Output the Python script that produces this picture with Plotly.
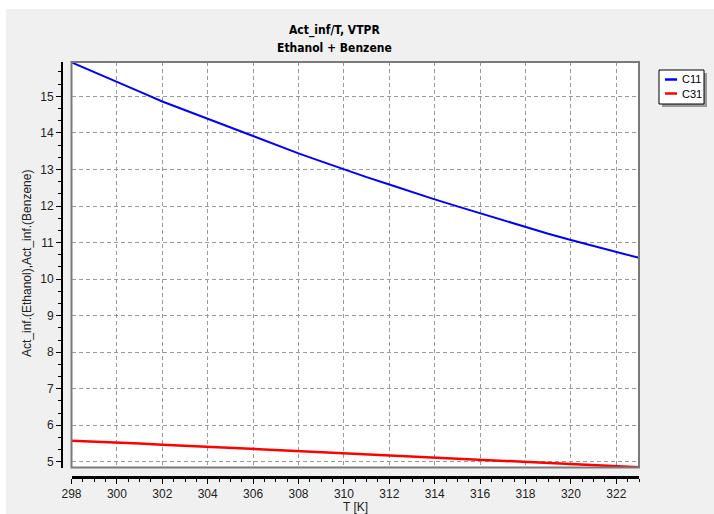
import plotly.graph_objects as go

# Infinite-dilution activity coefficients vs temperature (VTPR model)
temperature_K = [298, 299, 300, 301, 302, 303, 304, 305, 306, 307, 308, 309, 310,
                 311, 312, 313, 314, 315, 316, 317, 318, 319, 320, 321, 322, 323]
c11_values = [15.93, 15.67, 15.41, 15.13, 14.86, 14.62, 14.39, 14.15, 13.91, 13.67,
              13.44, 13.22, 13.00, 12.79, 12.59, 12.38, 12.18, 11.99, 11.80, 11.60,
              11.41, 11.24, 11.07, 10.91, 10.75, 10.58]
c31_values = [5.58, 5.56, 5.53, 5.50, 5.47, 5.44, 5.41, 5.38, 5.35, 5.32,
              5.29, 5.26, 5.23, 5.20, 5.17, 5.14, 5.11, 5.08, 5.05, 5.02,
              4.99, 4.96, 4.94, 4.91, 4.88, 4.85]
series_names = ["C11", "C31"]
series_colors = ["#0000ff", "#ff0000"]
x_ticks = list(range(298, 323, 2))
y_ticks = list(range(5, 16))

W, H = 714, 514
ML, MR, MT, MB = 62, 75, 62, 37
PW, PH = W - ML - MR, H - MT - MB


def px(x):
    return (x - ML) / PW


def py(y):
    return (H - MB - y) / PH


XDOM0 = px(71.5)
YDOM0 = py(467.5)

TICK_FONT = dict(family="Liberation Sans, Arial, sans-serif", size=12, color="#222222")
TITLE_FONT = "Liberation Sans Narrow, DejaVu Sans Condensed, Arial Narrow, sans-serif"

fig = go.Figure()
for name, vals, col, w in zip(series_names, [c11_values, c31_values], series_colors, [2, 2.5]):
    fig.add_trace(go.Scatter(x=temperature_K, y=vals, mode="lines", name=name,
                             line=dict(color=col, width=w), showlegend=False))

fig.update_layout(
    width=W, height=H,
    margin=dict(l=ML, r=MR, t=MT, b=MB),
    paper_bgcolor="#f0f0f0",
    plot_bgcolor="#ffffff",
    showlegend=False,
    xaxis=dict(
        domain=[XDOM0, 1], range=[298, 323], anchor="free", position=0,
        tickmode="array", tickvals=x_ticks, ticktext=[str(v) for v in x_ticks],
        showline=True, linecolor="#000000", linewidth=3,
        ticks="outside", ticklen=5, tickwidth=1, tickcolor="#000000",
        tickfont=TICK_FONT,
        showgrid=True, gridcolor="#9a9a9a", gridwidth=1, griddash="4px,3px",
        zeroline=False,
        minor=dict(dtick=0.5, ticks="outside", ticklen=3, tickcolor="#000000", showgrid=False),
    ),
    yaxis=dict(
        domain=[YDOM0, 1], range=[4.845, 15.94], anchor="free", position=0,
        tickmode="array", tickvals=y_ticks, ticktext=[str(v) for v in y_ticks],
        showline=True, linecolor="#000000", linewidth=2,
        ticks="outside", ticklen=5, tickwidth=1, tickcolor="#000000",
        tickfont=TICK_FONT,
        showgrid=True, gridcolor="#9a9a9a", gridwidth=1, griddash="4px,3px",
        zeroline=False,
        minor=dict(dtick=1 / 3, ticks="outside", ticklen=3, tickcolor="#000000", showgrid=False),
    ),
)

shapes = []
# white strips along the top and left edges of the window
shapes.append(dict(type="rect", xref="paper", yref="paper", x0=px(-5), x1=px(W + 5),
                   y0=py(9), y1=py(-5), fillcolor="#ffffff", line=dict(width=0), layer="below"))
shapes.append(dict(type="rect", xref="paper", yref="paper", x0=px(-5), x1=px(6),
                   y0=py(H + 5), y1=py(-5), fillcolor="#ffffff", line=dict(width=0), layer="below"))
# plot frame
shapes.append(dict(type="rect", xref="paper", yref="paper", x0=XDOM0, x1=1, y0=YDOM0, y1=1,
                   line=dict(color="#7a7a7a", width=2), fillcolor="rgba(0,0,0,0)", layer="above"))
# legend box with drop shadow
lx0, lx1, ly0, ly1 = 659, 704, 70, 104
shapes.append(dict(type="rect", xref="paper", yref="paper", x0=px(lx0 + 3), x1=px(lx1 + 3),
                   y0=py(ly1 + 3), y1=py(ly0 + 3), fillcolor="#9a9a9a", line=dict(width=0)))
shapes.append(dict(type="rect", xref="paper", yref="paper", x0=px(lx0), x1=px(lx1),
                   y0=py(ly1), y1=py(ly0), fillcolor="#ffffff", line=dict(color="#000000", width=1)))
annotations = []
for i, (name, col) in enumerate(zip(series_names, series_colors)):
    yy = 79.5 + i * 14
    shapes.append(dict(type="line", xref="paper", yref="paper", x0=px(665), x1=px(677),
                       y0=py(yy), y1=py(yy), line=dict(color=col, width=2.5)))
    annotations.append(dict(text=name, xref="paper", yref="paper", x=px(680), y=py(yy),
                            xanchor="left", yanchor="middle", showarrow=False,
                            font=dict(family="Liberation Sans, Arial, sans-serif", size=11,
                                      color="#000000")))

# titles
annotations.append(dict(text="<b>Act_inf/T, VTPR</b>", xref="paper", yref="paper",
                        x=px(334), y=py(30), xanchor="center", yanchor="middle", showarrow=False,
                        font=dict(family=TITLE_FONT, size=12, color="#000000")))
annotations.append(dict(text="<b>Ethanol + Benzene</b>", xref="paper", yref="paper",
                        x=px(334), y=py(48), xanchor="center", yanchor="middle", showarrow=False,
                        font=dict(family=TITLE_FONT, size=12, color="#000000")))
annotations.append(dict(text="T [K]", xref="paper", yref="paper", x=px(355), y=py(507),
                        xanchor="center", yanchor="middle", showarrow=False, font=TICK_FONT))
annotations.append(dict(text="Act_inf.(Ethanol),Act_inf.(Benzene)", xref="paper", yref="paper",
                        x=px(27), y=py(264), xanchor="center", yanchor="middle", showarrow=False,
                        textangle=-90, font=TICK_FONT))

fig.update_layout(shapes=shapes, annotations=annotations)
fig.write_html("out.html")
